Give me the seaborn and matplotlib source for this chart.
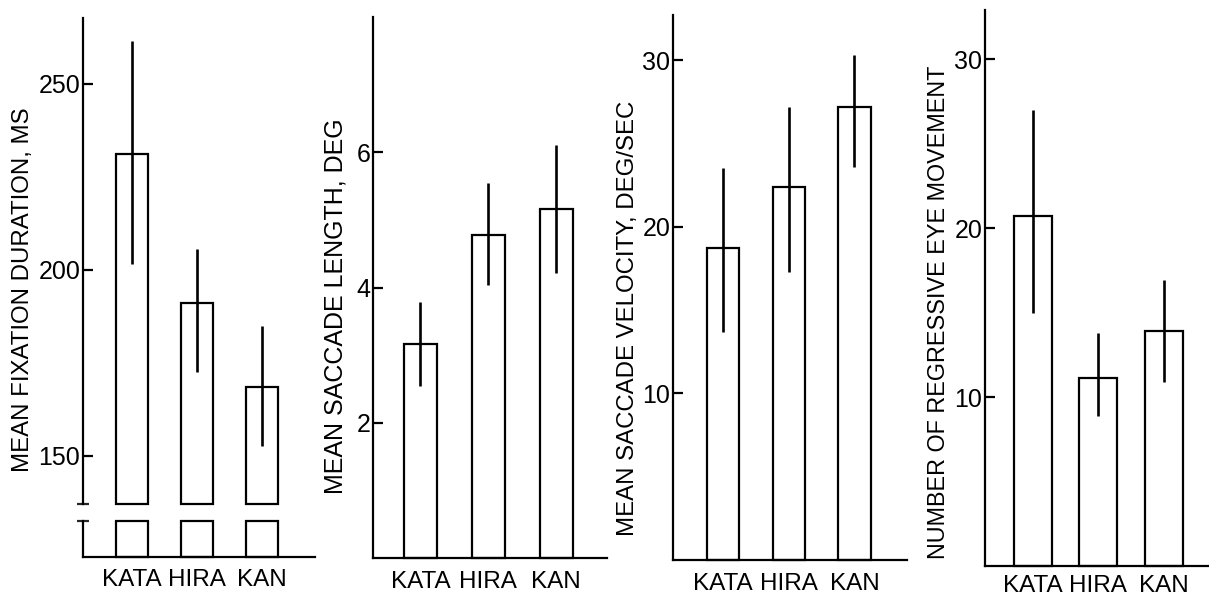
import pandas as pd
import seaborn as sns
import matplotlib.pyplot as plt

# data
scripts = ['KATA', 'HIRA', 'KAN']

fix_mean = [231, 191, 168.5]
fix_lo = [201.5, 172.5, 152.5]
fix_hi = [261.5, 205.5, 185]

len_mean = [3.16, 4.78, 5.16]
len_lo = [2.55, 4.03, 4.22]
len_hi = [3.78, 5.54, 6.10]

vel_mean = [18.7, 22.4, 27.2]
vel_lo = [13.7, 17.3, 23.6]
vel_hi = [23.5, 27.2, 30.3]

reg_mean = [20.7, 11.1, 13.9]
reg_lo = [15.0, 8.9, 10.9]
reg_hi = [27.0, 13.8, 16.9]

sns.set_style("ticks")
plt.rcParams['font.family'] = ['Liberation Sans', 'DejaVu Sans']

W, H = 1209, 601
fig = plt.figure(figsize=(W / 100, H / 100), dpi=100)


def px_axes(left, right, top, bottom):
    # pixel box -> figure fraction
    return fig.add_axes([left / W, 1 - bottom / H, (right - left) / W, (bottom - top) / H])


def bars(ax, mean, width):
    df = pd.DataFrame({'script': scripts, 'value': mean})
    sns.barplot(data=df, x='script', y='value', ax=ax, fill=False, color='black',
                linewidth=1.6, width=width, errorbar=None)
    for p in ax.patches:
        p.set_clip_on(False)


def xlabels(ax, pad):
    ax.tick_params(axis='x', length=0, pad=pad, labelsize=17.5, colors='black')
    ax.set_xlabel('')


def style(ax, yticks, xlim, ylim, label, lsize, lab_x, lab_y, xpad=9):
    ax.set_xlim(*xlim)
    ax.set_ylim(*ylim)
    ax.set_yticks(yticks)
    ax.set_yticklabels([str(t) for t in yticks])
    sns.despine(ax=ax)
    for s in ['left', 'bottom']:
        ax.spines[s].set_linewidth(1.6)
        ax.spines[s].set_color('black')
    ax.tick_params(axis='y', direction='in', length=7, width=1.6, pad=2, labelsize=18, colors='black')
    xlabels(ax, xpad)
    ax.set_ylabel(label, fontsize=lsize, color='black')
    ax.yaxis.set_label_coords(lab_x / W, 1 - lab_y / H, transform=fig.transFigure)


# panel 1 : broken axis
ybreak = 137
ax1 = px_axes(83, 315, 18, 504)
bars(ax1, fix_mean, 0.49)
for p in ax1.patches:
    p.set_y(ybreak)
    p.set_height(p.get_height() - ybreak)
ax1.vlines(range(3), fix_lo, fix_hi, color='black', lw=1.9)
style(ax1, [150, 200, 250], (-0.75, 2.82), (ybreak, 267.7),
      'MEAN FIXATION DURATION, MS', 17.3, 34, 290)
ax1.spines['bottom'].set_visible(False)
ax1.tick_params(axis='x', bottom=False, labelbottom=False)
ax1.set_yticks([ybreak], minor=True)
ax1.tick_params(axis='y', which='minor', direction='inout', length=9, width=1.6)

ax1b = px_axes(83, 315, 521, 557)
bars(ax1b, fix_mean, 0.49)
for p in ax1b.patches:
    p.set_height(1)
ax1b.set_xlim(-0.75, 2.82)
ax1b.set_ylim(0, 1)
ax1b.set_yticks([1])
ax1b.set_yticklabels([''])
sns.despine(ax=ax1b)
for s in ['left', 'bottom']:
    ax1b.spines[s].set_linewidth(1.6)
    ax1b.spines[s].set_color('black')
ax1b.tick_params(axis='y', direction='inout', length=9, width=1.6)
xlabels(ax1b, 9)
ax1b.set_ylabel('')

# panel 2
ax2 = px_axes(373, 607, 17, 558)
bars(ax2, len_mean, 0.49)
ax2.vlines(range(3), len_lo, len_hi, color='black', lw=1.9)
style(ax2, [2, 4, 6], (-0.70, 2.75), (0, 8),
      'MEAN SACCADE LENGTH, DEG', 18.0, 348, 306)

# panel 3
ax3 = px_axes(673, 907, 15, 560)
bars(ax3, vel_mean, 0.49)
ax3.vlines(range(3), vel_lo, vel_hi, color='black', lw=1.9)
style(ax3, [10, 20, 30], (-0.76, 2.80), (0, 32.7),
      'MEAN SACCADE VELOCITY, DEG/SEC', 17.3, 639, 318)

# panel 4
ax4 = px_axes(985, 1209, 10, 566)
bars(ax4, reg_mean, 0.58)
ax4.vlines(range(3), reg_lo, reg_hi, color='black', lw=1.9)
style(ax4, [10, 20, 30], (-0.73, 2.69), (0, 32.9),
      'NUMBER OF REGRESSIVE EYE MOVEMENT', 16.8, 950, 312, xpad=6.5)

fig.savefig('out.png', dpi=100)
